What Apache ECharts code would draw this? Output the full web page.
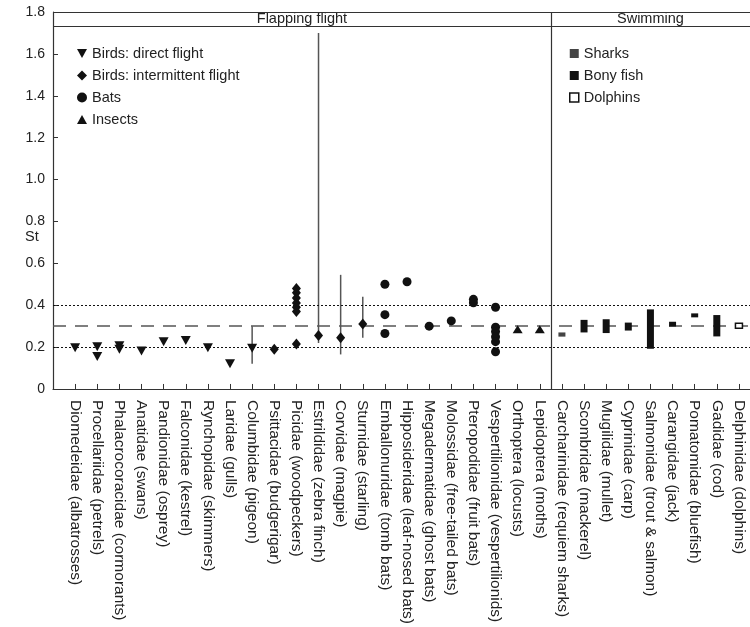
<!DOCTYPE html>
<html><head><meta charset="utf-8">
<script src="https://cdn.jsdelivr.net/npm/echarts@6/dist/echarts.min.js"></script>
<style>html,body{margin:0;padding:0;background:#fff}#c{width:750px;height:627px}</style>
</head><body><div id="c"></div>
<script>
const categories = [
  'Diomedeidae (albatrosses)','Procellariidae (petrels)','Phalacrocoracidae (cormorants)','Anatidae (swans)',
  'Pandionidae (osprey)','Falconidae (kestrel)','Rynchopidae (skimmers)','Laridae (gulls)','Columbidae (pigeon)',
  'Psittacidae (budgerigar)','Picidae (woodpeckers)','Estrildidae (zebra finch)','Corvidae (magpie)','Sturnidae (starling)',
  'Emballonuridae (tomb bats)','Hipposideridae (leaf-nosed bats)','Megadermatidae (ghost bats)','Molossidae (free-tailed bats)',
  'Pteropodidae (fruit bats)','Vespertilionidae (vespertilionids)','Orthoptera (locusts)','Lepidoptera (moths)',
  'Carcharinidae (requiem sharks)','Scombridae (mackerel)','Mugilidae (mullet)','Cyprinidae (carp)',
  'Salmonidae (trout & salmon)','Carangidae (jack)','Pomatomidae (bluefish)','Gadidae (cod)','Delphinidae (dolphins)'
];
const groupLabels = ['Flapping flight','Swimming'];
// [category number (1-based), St]
const birdsDirect = [[1,0.197],[2,0.202],[2,0.155],[3,0.207],[3,0.19],[4,0.181],[5,0.226],[6,0.231],[7,0.197],[8,0.12],[9,0.194]];
const birdsIntermittent = [[10,0.19],[11,0.48],[11,0.46],[11,0.435],[11,0.41],[11,0.39],[11,0.37],[11,0.215],[12,0.255],[13,0.245],[14,0.31]];
const bats = [[15,0.5],[15,0.355],[15,0.265],[16,0.512],[17,0.30],[18,0.325],[19,0.428],[19,0.412],[20,0.39],[20,0.295],[20,0.274],[20,0.25],[20,0.226],[20,0.178]];
const insects = [[21,0.285],[22,0.285]];
// [category number, low, high]
const birdRanges = [[9,0.12,0.3],[12,0.22,1.7],[13,0.165,0.545],[14,0.245,0.44]];
const sharks = [[23,0.25,0.27]];
const bonyFish = [[24,0.27,0.33],[25,0.267,0.333],[26,0.279,0.317],[27,0.192,0.38],[28,0.298,0.321],[29,0.342,0.361],[30,0.251,0.353]];
const dolphins = [[31,0.29,0.314]];
const refLines = {lower:0.2, mid:0.3, upper:0.4};

const FONT = "'Liberation Sans', Arial, Helvetica, sans-serif";
const TXT = '#222';
const triDown = 'path://M0,0L10,0L5,9Z';
const triUp = 'path://M5,0L10,9L0,9Z';
const XMAX = 31.5;

function rangeLine(params, api){
  const x = api.value(0);
  const p1 = api.coord([x, api.value(1)]);
  const p2 = api.coord([x, api.value(2)]);
  return {type:'line', shape:{x1:p1[0],y1:p1[1],x2:p2[0],y2:p2[1]}, style:{stroke:'#555', lineWidth:1.5}};
}
function rangeBar(params, api){
  const x = api.value(0);
  const p1 = api.coord([x, api.value(1)]);
  const p2 = api.coord([x, api.value(2)]);
  return {type:'rect', shape:{x:p1[0]-3.5, y:p2[1], width:7, height:p1[1]-p2[1]}, style:api.style()};
}
const mark = {color:'#111', opacity:1};

const chart = echarts.init(document.getElementById('c'), null, {renderer:'canvas'});
chart.setOption({
  animation:false,
  backgroundColor:'#fff',
  textStyle:{fontFamily:FONT},
  grid:{left:53, right:0, top:12, bottom:238, show:false},
  xAxis:{
    type:'value', min:0, max:XMAX, interval:1,
    splitLine:{show:false},
    axisLine:{lineStyle:{color:'#333', width:1.2}},
    axisTick:{inside:true, length:5, lineStyle:{color:'#333'}},
    axisLabel:{
      rotate:-90, margin:11, color:TXT, fontSize:15.5, fontFamily:FONT,
      showMinLabel:true, showMaxLabel:true,
      formatter:v => (Number.isInteger(v) && v>=1 && v<=categories.length) ? categories[v-1] : ''
    }
  },
  yAxis:{
    type:'value', min:0, max:1.8, interval:0.2,
    splitLine:{show:false},
    axisLine:{show:true, lineStyle:{color:'#333', width:1.2}},
    axisTick:{show:true, inside:true, length:5, lineStyle:{color:'#333'}},
    axisLabel:{color:TXT, fontSize:14, fontFamily:FONT, margin:8,
      formatter:v => v===0 ? '0' : v.toFixed(1)}
  },
  graphic:[{type:'text', left:25, top:229, style:{text:'St', fill:TXT, font:'14.5px '+FONT}}],
  legend:[
    {data:['Birds: direct flight','Birds: intermittent flight','Bats','Insects'],
     orient:'vertical', left:72, top:41, itemWidth:10, itemHeight:10, itemGap:7,
     textStyle:{color:TXT, fontSize:14.5, fontFamily:FONT}},
    {data:[{name:'Sharks', icon:'rect'},{name:'Bony fish', icon:'rect'},
           {name:'Dolphins', icon:'rect', itemStyle:{color:'#fff', borderColor:'#111', borderWidth:1.5}}],
     orient:'vertical', left:564, top:41, itemWidth:9, itemHeight:9, itemGap:7,
     textStyle:{color:TXT, fontSize:14.5, fontFamily:FONT}}
  ],
  series:[
    {type:'custom', name:'ranges', renderItem:rangeLine, data:birdRanges, z:2, silent:true,
     markLine:{silent:true, symbol:'none', label:{show:false}, animation:false,
       data:[
         {yAxis:refLines.lower, lineStyle:{type:[2,2], color:'#111', width:1.2}},
         {yAxis:refLines.upper, lineStyle:{type:[2,2], color:'#111', width:1.2}},
         {yAxis:refLines.mid, lineStyle:{type:[13,9], color:'#555', width:1.5}},
         {yAxis:1.73, lineStyle:{type:'solid', color:'#333', width:1.2}},
         {yAxis:1.8, lineStyle:{type:'solid', color:'#333', width:1.2}},
         {xAxis:22.5, lineStyle:{type:'solid', color:'#333', width:1.2}}
       ]},
     markArea:{silent:true, itemStyle:{color:'rgba(0,0,0,0)'},
       label:{position:'inside', color:TXT, fontSize:14.5, fontFamily:FONT},
       data:[
         [{name:groupLabels[0], coord:[0,1.73]},{coord:[22.5,1.8]}],
         [{name:groupLabels[1], coord:[22.5,1.73]},{coord:[XMAX,1.8]}]
       ]}
    },
    {type:'scatter', name:'Birds: direct flight', data:birdsDirect, symbol:triDown, symbolSize:[10,9], itemStyle:mark, z:5},
    {type:'scatter', name:'Birds: intermittent flight', data:birdsIntermittent, symbol:'diamond', symbolSize:[9,11], itemStyle:mark, z:5},
    {type:'scatter', name:'Bats', data:bats, symbol:'circle', symbolSize:9, itemStyle:mark, z:5},
    {type:'scatter', name:'Insects', data:insects, symbol:triUp, symbolSize:[10,8], itemStyle:mark, z:5},
    {type:'custom', name:'Sharks', renderItem:rangeBar, data:sharks, itemStyle:{color:'#444'}, z:5},
    {type:'custom', name:'Bony fish', renderItem:rangeBar, data:bonyFish, itemStyle:{color:'#111'}, z:5},
    {type:'custom', name:'Dolphins', renderItem:rangeBar, data:dolphins, itemStyle:{color:'#fff', borderColor:'#111', borderWidth:1.5}, z:5}
  ]
});
</script></body></html>
